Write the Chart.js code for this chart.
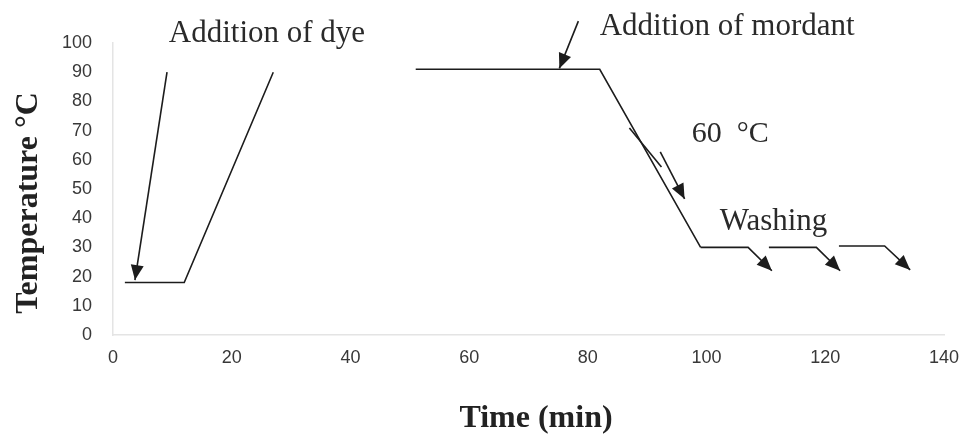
<!DOCTYPE html>
<html>
<head>
<meta charset="utf-8">
<title>Dyeing temperature profile</title>
<script src="https://cdn.jsdelivr.net/npm/chart.js@4"></script>
<style>
  html, body { margin: 0; padding: 0; background: #fff; }
  #wrap { width: 964px; height: 434px; }
</style>
</head>
<body>
<div id="wrap"><canvas id="profileChart"></canvas></div>
<script>
    // Axis ticks
    const timeTicks = [0, 20, 40, 60, 80, 100, 120, 140];
    const tempTicks = [0, 10, 20, 30, 40, 50, 60, 70, 80, 90, 100];

    // Temperature profile (null = break in the line)
    const processTime = [2, 12, 27, 39, 51, 82, 99];
    const processTemp = [18, 18, 90, null, 91, 91, 30];

    // Washing steps
    const wash1Time = [99, 107, 111];
    const wash1Temp = [30, 30, 22];
    const wash2Time = [110.5, 118.5, 122.5];
    const wash2Temp = [30, 30, 22];
    const wash3Time = [122.3, 130, 134.3];
    const wash3Temp = [30.5, 30.5, 22.3];

    // Pointer arrows
    const dyeArrowTime = [9.1, 3.7];
    const dyeArrowTemp = [90, 18.8];
    const mordantArrowTime = [78.4, 75.2];
    const mordantArrowTemp = [107.5, 91.3];
    const coolLineTime = [87, 92.4];
    const coolLineTemp = [70.9, 57.5];
    const coolArrowTime = [92.2, 96.3];
    const coolArrowTemp = [62.7, 46.6];

    // Labels placed in data units
    const noteText = ['Addition of dye', 'Addition of mordant', '60  \u00b0C', 'Washing'];
    const noteTime = [9.4, 82, 97.5, 102.2];
    const noteTemp = [100.3, 102.7, 66.1, 36.0];

    const ink = '#1c1c1c';

    function toPoints(xs, ys) {
    return xs.map((x, i) => ({ x: x, y: ys[i] }));
}

    function lineSet(xs, ys, arrow) {
    return {
    data: toPoints(xs, ys),
    borderColor: ink,
    borderWidth: 1.6,
    pointRadius: 0,
    tension: 0,
    spanGaps: false,
    clip: false,
    arrow: arrow
};
}

    // Arrow heads at the last point of pointer datasets
    const arrowHeads = {
    id: 'arrowHeads',
    afterDatasetsDraw(chart) {
    const ctx = chart.ctx;
    chart.data.datasets.forEach((ds, i) => {
    if (!ds.arrow) return;
    const pts = chart.getDatasetMeta(i).data;
    const a = pts[pts.length - 2];
    const b = pts[pts.length - 1];
    const ang = Math.atan2(b.y - a.y, b.x - a.x);
    const len = 15, half = 6.5;
    ctx.save();
    ctx.translate(b.x, b.y);
    ctx.rotate(ang);
    ctx.beginPath();
    ctx.moveTo(0, 0);
    ctx.lineTo(-len, -half);
    ctx.lineTo(-len, half);
    ctx.closePath();
    ctx.fillStyle = ink;
    ctx.fill();
    ctx.restore();
});
}
};

    // Text notes and axis titles
    const notes = {
    id: 'notes',
    afterDraw(chart) {
    const ctx = chart.ctx;
    const xs = chart.scales.x;
    const ys = chart.scales.y;
    ctx.save();
    ctx.fillStyle = '#2a2a2a';
    ctx.textBaseline = 'alphabetic';
    ctx.textAlign = 'left';
    noteText.forEach((t, i) => {
    ctx.font = (i === 2 ? '30px' : '31px') + ' "Liberation Serif", "Times New Roman", serif';
    ctx.fillText(t, xs.getPixelForValue(noteTime[i]), ys.getPixelForValue(noteTemp[i]));
});

    ctx.fillStyle = '#222';
    ctx.font = 'bold 32px "Liberation Serif", "Times New Roman", serif';
    ctx.textAlign = 'center';
    ctx.fillText('Time (min)', 536, 427);

    ctx.translate(37, 203);
    ctx.rotate(-Math.PI / 2);
    ctx.fillText('Temperature \u00b0C', 0, 0);
    ctx.restore();
}
};

    const chartCtx = document.getElementById('profileChart').getContext('2d');

    const profileChart = new Chart(chartCtx, {
    type: 'line',
    data: {
    datasets: [
    lineSet(processTime, processTemp, false),
    lineSet(wash1Time, wash1Temp, true),
    lineSet(wash2Time, wash2Temp, true),
    lineSet(wash3Time, wash3Temp, true),
    lineSet(dyeArrowTime, dyeArrowTemp, true),
    lineSet(mordantArrowTime, mordantArrowTemp, true),
    lineSet(coolLineTime, coolLineTemp, false),
    lineSet(coolArrowTime, coolArrowTemp, true)
    ]
},
    options: {
    responsive: true,
    maintainAspectRatio: false,
    animation: false,
    layout: {
    padding: { top: 43, right: 20, left: 0, bottom: 0 }
},
    plugins: {
    legend: { display: false },
    tooltip: { enabled: false }
},
    scales: {
    x: {
    type: 'linear',
    min: 0,
    max: 140,
    afterFit: (scale) => {
    scale.height = 99;
    scale.paddingLeft = 0;
    scale.paddingRight = 0;
},
    afterBuildTicks: (scale) => { scale.ticks = timeTicks.map(v => ({ value: v })); },
    grid: { display: false, drawTicks: false },
    border: { display: true, color: '#e4e4e4', width: 1.5 },
    ticks: {
    color: '#383838',
    padding: 12,
    maxRotation: 0,
    font: { family: '"Liberation Sans", Arial, sans-serif', size: 18 }
}
},
    y: {
    type: 'linear',
    min: 0,
    max: 100,
    afterFit: (scale) => { scale.width = 113; },
    afterBuildTicks: (scale) => { scale.ticks = tempTicks.map(v => ({ value: v })); },
    grid: { display: false, drawTicks: false },
    border: { display: true, color: '#e4e4e4', width: 1.5 },
    ticks: {
    color: '#383838',
    padding: 21,
    font: { family: '"Liberation Sans", Arial, sans-serif', size: 18 }
}
}
}
},
    plugins: [arrowHeads, notes]
});
</script>
</body>
</html>
